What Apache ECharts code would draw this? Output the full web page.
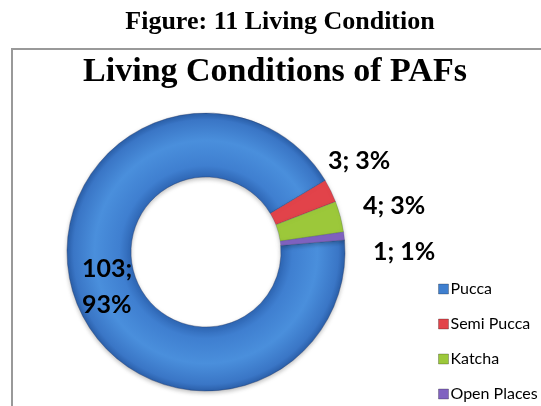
<!DOCTYPE html>
<html>
<head>
    <meta charset="utf-8"/>
    <title>Living Conditions of PAFs</title>
    <script type="text/javascript" src="https://cdn.jsdelivr.net/npm/echarts@6/dist/echarts.min.js"></script>
    <style>
        html, body { margin: 0; padding: 0; background: #fff; }
    </style>
</head>
<body>
<div id="main" style="width: 541px;height:406px;"></div>
<script type="text/javascript">
    // data
    var categories = ['Pucca', 'Semi Pucca', 'Katcha', 'Open Places'];
    var counts = [103, 3, 4, 1];
    var percentLabels = ['93%', '3%', '3%', '1%'];   // as printed on the figure
    var colors = ['#3f7fcf', '#e2434a', '#9cc83a', '#8062c0'];

    // where the data labels sit (label layout only)
    var labelSpots = [
        {x: 82, y: 287, align: 'left'},
        {x: 328, y: 161, align: 'left'},
        {x: 363, y: 206, align: 'left'},
        {x: 373, y: 252, align: 'left'}
    ];

    var myChart = echarts.init(document.getElementById('main'));

    var pieData = [];
    var legendData = [];
    for (var i = 0; i < categories.length; i++) {
        var item = {name: categories[i], value: counts[i], itemStyle: {color: colors[i]}};
        if (i === 0) {
            // rounded look of the blue ring
            item.itemStyle.color = {
                type: 'radial', x: 0.5, y: 0.5, r: 0.5,
                colorStops: [
                    {offset: 0, color: '#2f67b5'},
                    {offset: 0.54, color: '#2f67b5'},
                    {offset: 0.62, color: '#3f7fd0'},
                    {offset: 0.8, color: '#4a8fdc'},
                    {offset: 0.95, color: '#3a76c6'},
                    {offset: 1, color: '#2a5ea8'}
                ]
            };
        }
        pieData.push(item);
        legendData.push({name: categories[i], itemStyle: {color: colors[i], borderColor: 'rgba(0,0,0,0.25)', borderWidth: 1}});
    }

    var option = {
        backgroundColor: '#fff',
        title: [
            {
                text: 'Figure: 11 Living Condition',
                left: 275,
                top: 4,
                textAlign: 'center',
                textStyle: {fontFamily: 'Liberation Serif', fontWeight: 'bold', fontSize: 26, color: '#000'}
            },
            {
                text: 'Living Conditions of PAFs',
                left: 270,
                top: 50,
                textAlign: 'center',
                textStyle: {fontFamily: 'Liberation Serif', fontWeight: 'bold', fontSize: 34, color: '#000'}
            }
        ],
        graphic: [
            {
                type: 'rect',
                shape: {x: 12, y: 49, width: 560, height: 400},
                style: {fill: 'none', stroke: '#999', lineWidth: 2},
                silent: true
            }
        ],
        legend: {
            orient: 'vertical',
            left: 433,
            top: 276,
            height: 128,
            itemWidth: 10,
            itemHeight: 10,
            itemGap: 19,
            icon: 'rect',
            data: legendData,
            textStyle: {fontFamily: 'Lato', fontSize: 16, color: '#000', padding: [0, 0, 0, -3]}
        },
        series: [
            {
                name: 'Living Conditions',
                type: 'pie',
                center: [206, 252],
                radius: [75, 139],
                startAngle: 5,
                clockwise: true,
                avoidLabelOverlap: false,
                itemStyle: {
                    borderColor: 'rgba(40,60,100,0.35)',
                    borderWidth: 0.6,
                    shadowColor: 'rgba(0,0,0,0.25)',
                    shadowBlur: 4,
                    shadowOffsetY: 2
                },
                label: {
                    show: true,
                    formatter: function (p) {
                        if (p.dataIndex === 0) {
                            return p.value + ';\n' + percentLabels[p.dataIndex];
                        }
                        return p.value + '; ' + percentLabels[p.dataIndex];
                    },
                    fontFamily: 'Lato',
                    fontWeight: 'bold',
                    fontSize: 25,
                    lineHeight: 36,
                    color: '#000'
                },
                labelLine: {show: false},
                labelLayout: function (params) {
                    return labelSpots[params.dataIndex];
                },
                emphasis: {disabled: true},
                data: pieData
            }
        ]
    };

    myChart.setOption(option);
</script>
</body>
</html>
